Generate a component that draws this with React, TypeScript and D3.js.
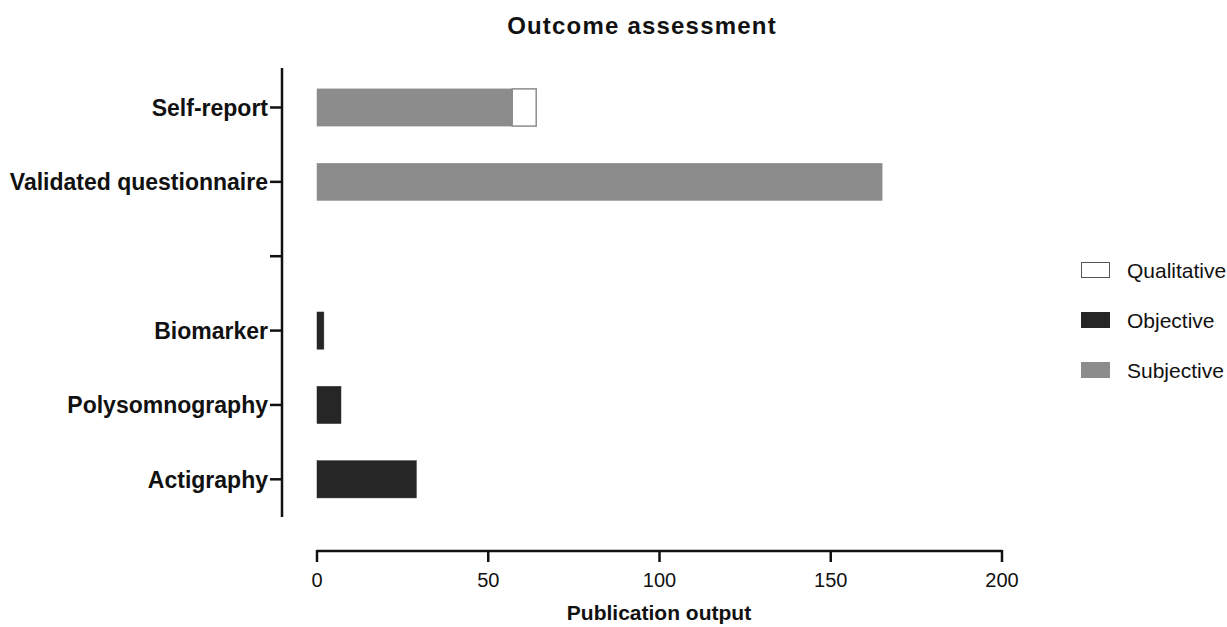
import React, { useEffect, useRef } from 'react';
import * as d3 from 'd3';

// categories, top to bottom ("" is the empty gap row)
const categories = ['Self-report', 'Validated questionnaire', '', 'Biomarker', 'Polysomnography', 'Actigraphy'];
const subjective = [57, 165, 0, 0, 0, 0];
const objective = [0, 0, 0, 2, 7, 29];
const qualitative = [7, 0, 0, 0, 0, 0];
const xTicks = [0, 50, 100, 150, 200];
const legendItems = ['Qualitative', 'Objective', 'Subjective'];

const colors: Record<string, string> = {
  Subjective: '#8c8c8c',
  Objective: '#262626',
  Qualitative: '#ffffff',
};

export default function App() {
  const svgRef = useRef<SVGSVGElement>(null);

  useEffect(() => {
    if (!svgRef.current) return;
    const width = 1227;
    const height = 627;
    const font = 'Arial, "Liberation Sans", Helvetica, sans-serif';

    const svg = d3.select(svgRef.current);
    svg.selectAll('*').remove();
    svg.attr('width', width).attr('height', height).attr('viewBox', `0 0 ${width} ${height}`);

    const x = d3.scaleLinear().domain([0, 200]).range([317, 1002]);
    const y = d3.scaleBand<string>()
      .domain(categories.map((c, i) => `${i}`))
      .range([70.3, 516.5])
      .paddingInner(0.5)
      .paddingOuter(0.25);

    const rows = categories.map((c, i) => ({
      key: `${i}`,
      Subjective: subjective[i],
      Objective: objective[i],
      Qualitative: qualitative[i],
    }));
    const stack = d3.stack<any>().keys(['Subjective', 'Objective', 'Qualitative']);
    const series = stack(rows);

    // title
    svg.append('text')
      .attr('x', 642).attr('y', 34)
      .attr('text-anchor', 'middle')
      .style('font-family', font).style('font-weight', 'bold').style('font-size', '24px')
      .style('letter-spacing', '1.2px')
      .attr('fill', '#111')
      .text('Outcome assessment');

    // bars
    series.forEach(s => {
      svg.append('g')
        .selectAll('rect')
        .data(s.filter(d => d[1] - d[0] > 0))
        .join('rect')
        .attr('x', d => x(d[0]))
        .attr('y', d => y(d.data.key)!)
        .attr('width', d => x(d[1]) - x(d[0]))
        .attr('height', y.bandwidth())
        .attr('fill', colors[s.key])
        .attr('stroke', s.key === 'Qualitative' ? '#8c8c8c' : colors[s.key])
        .attr('stroke-width', s.key === 'Qualitative' ? 1.5 : 0.5);
    });

    // y axis
    const yAxis = svg.append('g').attr('transform', 'translate(282,0)');
    yAxis.append('line')
      .attr('x1', 0).attr('x2', 0).attr('y1', 68).attr('y2', 517)
      .attr('stroke', '#111').attr('stroke-width', 2.5);
    categories.forEach((c, i) => {
      const cy = y(`${i}`)! + y.bandwidth() / 2;
      yAxis.append('line')
        .attr('x1', -12).attr('x2', 0).attr('y1', cy).attr('y2', cy)
        .attr('stroke', '#111').attr('stroke-width', 2.5);
      if (c) {
        yAxis.append('text')
          .attr('x', -14).attr('y', cy).attr('dy', '0.36em')
          .attr('text-anchor', 'end')
          .style('font-family', font).style('font-weight', 'bold').style('font-size', '23px')
          .attr('fill', '#111')
          .text(c);
      }
    });

    // x axis
    const xAxis = svg.append('g').attr('transform', 'translate(0,551)');
    xAxis.append('line')
      .attr('x1', x(0)).attr('x2', x(200)).attr('y1', 0).attr('y2', 0)
      .attr('stroke', '#111').attr('stroke-width', 2.5);
    xTicks.forEach(t => {
      xAxis.append('line')
        .attr('x1', x(t)).attr('x2', x(t)).attr('y1', -1).attr('y2', 11)
        .attr('stroke', '#111').attr('stroke-width', 2.5);
      xAxis.append('text')
        .attr('x', x(t)).attr('y', 36)
        .attr('text-anchor', 'middle')
        .style('font-family', font).style('font-size', '20px')
        .attr('fill', '#111')
        .text(t);
    });
    svg.append('text')
      .attr('x', 659).attr('y', 620)
      .attr('text-anchor', 'middle')
      .style('font-family', font).style('font-weight', 'bold').style('font-size', '21px')
      .attr('fill', '#111')
      .text('Publication output');

    // legend
    const legend = svg.append('g');
    legendItems.forEach((name, i) => {
      const ly = 270 + i * 50;
      legend.append('rect')
        .attr('x', 1081.5).attr('y', ly - 7.5).attr('width', 28).attr('height', 15)
        .attr('fill', colors[name])
        .attr('stroke', name === 'Qualitative' ? '#555' : colors[name])
        .attr('stroke-width', 1);
      legend.append('text')
        .attr('x', 1127).attr('y', ly).attr('dy', '0.36em')
        .style('font-family', font).style('font-size', '21px')
        .attr('fill', '#111')
        .text(name);
    });
  }, []);

  return (
    <div style={{ position: 'absolute', left: 0, top: 0, background: '#fff' }}>
      <svg ref={svgRef}></svg>
    </div>
  );
}
